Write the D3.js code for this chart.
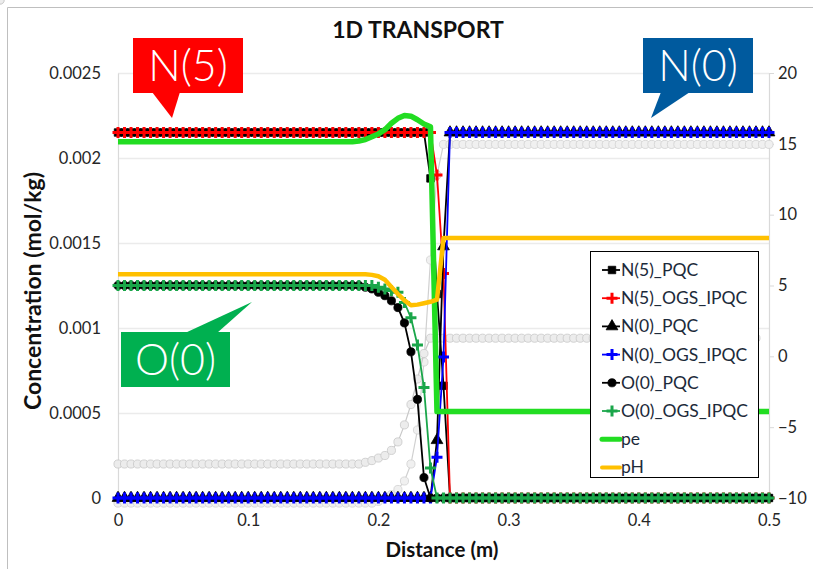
<!DOCTYPE html>
<html><head><meta charset="utf-8">
<script src="https://cdn.jsdelivr.net/npm/d3@7"></script>
<style>
body{margin:0;background:#fff}
svg{display:block}
text{font-family:Lato,"Open Sans",sans-serif}
</style>
</head><body>
<svg id="chart" width="813" height="569"></svg>
<script>
// Sample positions along the column (m)
const distance = d3.range(0, 101).map(i => +(i * 0.005).toFixed(3));

// helper for constant plateaus
const flat = (n, v) => Array(n).fill(v);

// Concentrations (mol/kg), left axis
const n5Pqc   = [...flat(48, 0.00215), 0.00188, 0.0012, 0.00066, ...flat(50, 0)];
const n5Ogs   = [...flat(49, 0.00215), 0.0019, 0.00132, ...flat(50, 0)];
const n0Pqc   = [...flat(49, 0), 0.00034, 0.00148, ...flat(50, 0.00215)];
const n0Ogs   = [...flat(49, 0), 0.00024, 0.00083, ...flat(50, 0.00215)];
const o0Pqc   = [...flat(38, 0.00125), 0.00124, 0.00123, 0.00121, 0.00119, 0.00116, 0.00112,
                 0.00103, 0.00086, 0.00058, 0.00012, ...flat(53, 0)];
const o0Ogs   = [...flat(40, 0.00125), 0.00124, 0.00123, 0.00122, 0.00121, 0.00115, 0.00106,
                 0.0009, 0.00065, 0.000176, ...flat(52, 0)];
// light grey reference profiles (left axis)
const greyA   = [...flat(38, 0.0002), 0.00021, 0.00022, 0.000235, 0.00025, 0.00028, 0.00033,
                 0.00043, 0.00055, 0.0007, 0.00085, 0.00094, ...flat(50, 0.00094)];
const greyB   = [...flat(40, -0.00003), -0.00002, 0, 0.00002, 0.00005, 0.0001, 0.0002,
                 0.0004, 0.0008, 0.0014, 0.0019, 0.00208, ...flat(50, 0.00208)];

// pe and pH, right axis
const pe = [...flat(37, 15.15), 15.2, 15.3, 15.5, 15.7, 16.0, 16.45, 16.8, 17.0, 16.95, 16.7,
            16.4, 16.2, ...flat(52, -3.9)];
const pH = [...flat(39, 5.8), 5.75, 5.65, 5.4, 4.9, 4.4, 3.95, 3.6, 3.65, 3.75, 3.85, 4.0,
            ...flat(51, 8.35)];

const leftTicks  = [0, 0.0005, 0.001, 0.0015, 0.002, 0.0025];
const rightTicks = [-10, -5, 0, 5, 10, 15, 20];
const xTicks     = [0, 0.1, 0.2, 0.3, 0.4, 0.5];

const svg = d3.select("#chart");

const x  = d3.scaleLinear().domain([0, 0.5]).range([118, 769]);
const yL = d3.scaleLinear().domain([0, 0.0025]).range([498, 73]);
const yR = d3.scaleLinear().domain([-10, 20]).range([498, 73]);

// chart area border (top and left edges)
svg.append("path").attr("d", "M7.5,569V7.5H813").attr("fill", "none").attr("stroke", "#bfbfbf");

// gridlines
svg.append("g").selectAll("line").data(leftTicks).join("line")
  .attr("x1", x(0)).attr("x2", x(0.5))
  .attr("y1", d => Math.round(yL(d)) + 0.5).attr("y2", d => Math.round(yL(d)) + 0.5)
  .attr("stroke", "#ebebeb").attr("stroke-width", 1.5);

// axes
const axL = svg.append("g").attr("transform", `translate(${x(0)},0)`)
  .call(d3.axisLeft(yL).tickValues(leftTicks).tickSize(0).tickPadding(17)
    .tickFormat(d => d === 0 ? "0" : String(+d.toFixed(4))));
const axR = svg.append("g").attr("transform", `translate(${x(0.5)},0)`)
  .call(d3.axisRight(yR).tickValues(rightTicks).tickSize(5).tickPadding(4));
const axX = svg.append("g").attr("transform", `translate(0,${yL(0)})`)
  .call(d3.axisBottom(x).tickValues(xTicks).tickSize(0).tickPadding(16)
    .tickFormat(d => d === 0 ? "0" : d3.format(".1f")(d)));
[axL, axR, axX].forEach(a => {
  a.select(".domain").attr("stroke", "#d9d9d9").attr("stroke-width", 1.2);
  a.selectAll(".tick line").attr("stroke", "#d9d9d9");
  a.selectAll("text").attr("font-size", 16.5).attr("fill", "#262626")
    .style("font-family", "Lato, 'Open Sans', sans-serif");
});

// axis titles and chart title
svg.append("text").attr("x", 418).attr("y", 38).attr("text-anchor", "middle")
  .attr("font-size", 23).attr("font-weight", 700).attr("fill", "#111").text("1D TRANSPORT");
svg.append("text").attr("transform", "translate(41,291) rotate(-90)")
  .attr("text-anchor", "middle").attr("font-size", 23).attr("font-weight", 700)
  .attr("fill", "#111").text("Concentration (mol/kg)");
svg.append("text").attr("x", 442).attr("y", 557).attr("text-anchor", "middle")
  .attr("font-size", 20.5).attr("font-weight", 700).attr("fill", "#111").text("Distance (m)");

// marker shapes
const sym = {
  square:   d3.symbol().type(d3.symbolSquare).size(56)(),
  triangle: d3.symbol().type(d3.symbolTriangle).size(60)(),
  circle:   d3.symbol().type(d3.symbolCircle).size(52)(),
  cross:    "M-5.5,0H5.5M0,-5.5V5.5"
};

const series = [
  {vals: greyB, y: yL, color: "#d0d0d0", marker: "circle", fill: "#f0f0f0", lw: 1.2},
  {vals: greyA, y: yL, color: "#c8c8c8", marker: "circle", fill: "#ececec", lw: 1.2},
  {vals: n5Pqc, y: yL, color: "#000", marker: "square", fill: "#000", lw: 1.8},
  {vals: n5Ogs, y: yL, color: "#ff0000", marker: "cross", lw: 1.8},
  {vals: n0Pqc, y: yL, color: "#000", marker: "triangle", fill: "#000", lw: 1.8},
  {vals: n0Ogs, y: yL, color: "#0000ff", marker: "cross", lw: 1.8},
  {vals: o0Pqc, y: yL, color: "#000", marker: "circle", fill: "#000", lw: 1.8},
  {vals: o0Ogs, y: yL, color: "#1aa64a", marker: "cross", lw: 1.8},
  {vals: pe, y: yR, color: "#22dd22", lw: 5.5},
  {vals: pH, y: yR, color: "#ffc000", lw: 4.5}
];

const plot = svg.append("g");
series.forEach(s => {
  const pts = distance.map((d, i) => [d, s.vals[i]]);
  const line = d3.line().x(p => x(p[0])).y(p => s.y(p[1]));
  plot.append("path").attr("d", line(pts)).attr("fill", "none")
    .attr("stroke", s.color).attr("stroke-width", s.lw).attr("stroke-linejoin", "round");
  if (s.marker) {
    const g = plot.append("g");
    g.selectAll("path").data(pts).join("path")
      .attr("transform", p => `translate(${x(p[0])},${s.y(p[1])})`)
      .attr("d", sym[s.marker])
      .attr("fill", s.marker === "cross" ? "none" : s.fill)
      .attr("stroke", s.color)
      .attr("stroke-width", s.marker === "cross" ? 3 : 0.8);
  }
});

// legend
const legendItems = [
  {name: "N(5)_PQC", color: "#000", marker: "square"},
  {name: "N(5)_OGS_IPQC", color: "#ff0000", marker: "cross"},
  {name: "N(0)_PQC", color: "#000", marker: "triangle"},
  {name: "N(0)_OGS_IPQC", color: "#0000ff", marker: "cross"},
  {name: "O(0)_PQC", color: "#000", marker: "circle"},
  {name: "O(0)_OGS_IPQC", color: "#1aa64a", marker: "cross"},
  {name: "pe", color: "#22dd22", lw: 5},
  {name: "pH", color: "#ffc000", lw: 4}
];
const lg = svg.append("g");
lg.append("rect").attr("x", 590.5).attr("y", 251.5).attr("width", 168).attr("height", 226)
  .attr("fill", "#fff").attr("stroke", "#000").attr("stroke-width", 1);
legendItems.forEach((it, i) => {
  const cy = 270 + i * 28.2;
  lg.append("line").attr("x1", 602).attr("x2", 620).attr("y1", cy).attr("y2", cy)
    .attr("stroke", it.color).attr("stroke-width", it.lw || 1.8)
    .attr("stroke-linecap", it.lw ? "round" : "butt");
  if (it.marker) {
    lg.append("path").attr("transform", `translate(612,${cy})`).attr("d", sym[it.marker])
      .attr("fill", it.marker === "cross" ? "none" : it.color).attr("stroke", it.color)
      .attr("stroke-width", it.marker === "cross" ? 3 : 0.8);
  }
  lg.append("text").attr("x", 621).attr("y", cy + 6).attr("font-size", 17.5)
    .attr("fill", "#1c2a3a").text(it.name);
});

// callout labels
function callout(box, tail, fill, label) {
  const [x0, y0, x1, y1] = box;
  const g = svg.append("g");
  g.append("rect").attr("x", x0).attr("y", y0).attr("width", x1 - x0).attr("height", y1 - y0)
    .attr("fill", fill);
  g.append("path").attr("d", d3.line()(tail)).attr("fill", fill);
  g.append("text").attr("x", (x0 + x1) / 2).attr("y", y1 - 12).attr("text-anchor", "middle")
    .attr("font-size", 43).attr("font-weight", 300).attr("fill", "#fff").text(label);
}
callout([133, 38, 243, 93], [[152, 92], [180, 92], [172, 118]], "#ff0000", "N(5)");
callout([643, 38, 753, 93], [[661, 92], [690, 92], [651, 118]], "#005a9e", "N(0)");
callout([121, 332, 230, 387], [[185, 333], [217, 333], [252, 302]], "#00b050", "O(0)");
</script>
</body></html>
